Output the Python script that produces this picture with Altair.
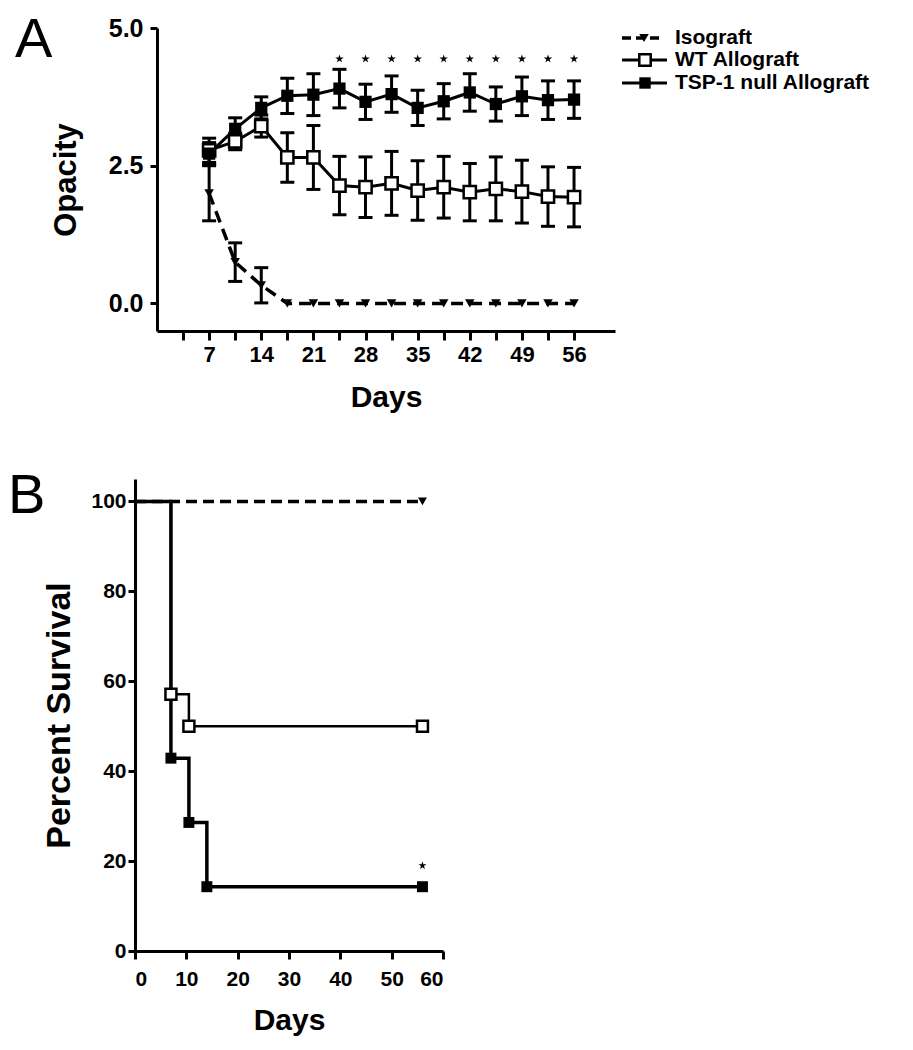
import altair as alt
import pandas as pd

# ---------------- Panel A data ----------------
days = [7, 10.5, 14, 17.5, 21, 24.5, 28, 31.5, 35, 38.5, 42, 45.5, 49, 52.5, 56]
iso_mean = [2.0, 0.75, 0.33, 0, 0, 0, 0, 0, 0, 0, 0, 0, 0, 0, 0]
iso_err = [0.5, 0.35, 0.32, 0, 0, 0, 0, 0, 0, 0, 0, 0, 0, 0, 0]
wt_mean = [2.78, 2.94, 3.22, 2.65, 2.65, 2.14, 2.11, 2.18, 2.05, 2.11, 2.02, 2.08, 2.03, 1.94, 1.93]
wt_err = [0.22, 0.15, 0.2, 0.45, 0.58, 0.53, 0.55, 0.58, 0.54, 0.56, 0.52, 0.58, 0.57, 0.54, 0.54]
tsp_mean = [2.72, 3.17, 3.55, 3.77, 3.79, 3.90, 3.66, 3.80, 3.55, 3.67, 3.83, 3.62, 3.76, 3.69, 3.70]
tsp_err = [0.2, 0.2, 0.2, 0.32, 0.38, 0.35, 0.32, 0.33, 0.32, 0.32, 0.34, 0.31, 0.35, 0.35, 0.34]
star_days = [24.5, 28, 31.5, 35, 38.5, 42, 45.5, 49, 52.5, 56]
star_level = 4.44
series_names = ["Isograft", "WT Allograft", "TSP-1 null Allograft"]
a_ticks = [3.5, 7, 10.5, 14, 17.5, 21, 24.5, 28, 31.5, 35, 38.5, 42, 45.5, 49, 52.5, 56]

# ---------------- Panel B data ----------------
iso_surv_day = [0, 56]
iso_surv = [100, 100]
wt_surv_day = [0, 7, 10.5, 56]
wt_surv = [100, 57.1, 50, 50]
tsp_surv_day = [0, 7, 10.5, 14, 56]
tsp_surv = [100, 42.9, 28.6, 14.3, 14.3]
iso_mark_day = [56]
iso_mark = [100]
wt_mark_day = [7, 10.5, 56]
wt_mark = [57.1, 50, 50]
tsp_mark_day = [7, 10.5, 14, 56]
tsp_mark = [42.9, 28.6, 14.3, 14.3]
b_star_day = [56]
b_star = [19]

FONT = "Liberation Sans, Arial, Helvetica, sans-serif"
STAR = ("M0,-1L0.2245,-0.309L0.951,-0.309L0.363,0.118L0.588,0.809L0,0.382"
        "L-0.588,0.809L-0.363,0.118L-0.951,-0.309L-0.2245,-0.309Z")


def frame(name, mean, err):
    return pd.DataFrame({
        "day": days, "mean": mean, "err": err,
        "lo": [m - e for m, e in zip(mean, err)],
        "hi": [m + e for m, e in zip(mean, err)],
        "series": name,
    })


iso_df = frame(series_names[0], iso_mean, iso_err)
wt_df = frame(series_names[1], wt_mean, wt_err)
tsp_df = frame(series_names[2], tsp_mean, tsp_err)
all_df = pd.concat([iso_df, wt_df, tsp_df], ignore_index=True)
err_df = all_df[all_df["err"] > 0]

axis_common = dict(
    domainColor="black", domainWidth=3, tickColor="black", tickWidth=3,
    labelColor="black", labelFont=FONT, labelFontWeight="bold",
    titleColor="black", titleFont=FONT, titleFontWeight="bold", grid=False,
)

xA = alt.X("day:Q", scale=alt.Scale(domain=[0, 61.5], nice=False),
           axis=alt.Axis(values=a_ticks, labelExpr="datum.value % 7 === 0 ? datum.label : ''",
                         title="Days", tickSize=9, labelFontSize=22, titleFontSize=30,
                         labelPadding=4, titlePadding=17, **axis_common))
yA = alt.Y("mean:Q", scale=alt.Scale(domain=[-0.5, 5.0], nice=False),
           axis=alt.Axis(values=[0, 2.5, 5.0], format=".1f", title="Opacity", tickSize=7,
                         labelFontSize=25, titleFontSize=31, labelPadding=7, titlePadding=26,
                         **axis_common))

base_err = alt.Chart(err_df)
err_rules = base_err.mark_rule(color="black", strokeWidth=3).encode(
    x=xA, y=alt.Y("lo:Q"), y2="hi:Q")
caps_lo = base_err.mark_tick(orient="horizontal", color="black", size=14, thickness=3,
                             opacity=1).encode(x=xA, y=alt.Y("lo:Q"))
caps_hi = base_err.mark_tick(orient="horizontal", color="black", size=14, thickness=3,
                             opacity=1).encode(x=xA, y=alt.Y("hi:Q"))

iso_line = alt.Chart(iso_df).mark_line(color="black", strokeWidth=3.5, strokeDash=[12, 7]).encode(
    x=xA, y=yA)
wt_line = alt.Chart(wt_df).mark_line(color="black", strokeWidth=3).encode(x=xA, y=yA)
tsp_line = alt.Chart(tsp_df).mark_line(color="black", strokeWidth=3).encode(x=xA, y=yA)

iso_pts = alt.Chart(iso_df).mark_point(shape="triangle-down", filled=True, color="black",
                                      size=90, opacity=1).encode(x=xA, y=yA)
wt_pts = alt.Chart(wt_df).mark_point(shape="square", filled=True, fill="white", stroke="black",
                                     strokeWidth=2.5, size=150, opacity=1).encode(x=xA, y=yA)
tsp_pts = alt.Chart(tsp_df).mark_point(shape="square", filled=True, color="black",
                                       size=150, opacity=1).encode(x=xA, y=yA)

stars_df = pd.DataFrame({"day": star_days, "mean": [star_level] * len(star_days)})
stars = alt.Chart(stars_df).mark_point(shape=STAR, filled=True, color="black", size=80,
                                       opacity=1).encode(x=xA, y=yA)

# legend drawn beside panel A
leg_rows = [10, 32, 55]
legend_layers = []
for i, name in enumerate(series_names):
    d = alt.Chart(pd.DataFrame({"series": [name]}))
    if i == 0:
        legend_layers.append(d.mark_rule(color="black", strokeWidth=3.5, strokeDash=[9, 5]).encode(
            x=alt.value(465), x2=alt.value(505), y=alt.value(leg_rows[i])))
        legend_layers.append(d.mark_point(shape="triangle-down", filled=True, color="black",
                                          size=90, opacity=1).encode(
            x=alt.value(487), y=alt.value(leg_rows[i])))
    else:
        legend_layers.append(d.mark_rule(color="black", strokeWidth=3).encode(
            x=alt.value(465), x2=alt.value(510), y=alt.value(leg_rows[i])))
        if i == 1:
            legend_layers.append(d.mark_point(shape="square", filled=True, fill="white",
                                              stroke="black", strokeWidth=2.5, size=130,
                                              opacity=1).encode(
                x=alt.value(488), y=alt.value(leg_rows[i])))
        else:
            legend_layers.append(d.mark_point(shape="square", filled=True, color="black",
                                              size=130, opacity=1).encode(
                x=alt.value(488), y=alt.value(leg_rows[i])))
    legend_layers.append(d.mark_text(align="left", baseline="middle", font=FONT, fontSize=21,
                                     fontWeight="bold", color="black").encode(
        x=alt.value(518), y=alt.value(leg_rows[i]), text="series:N"))

label_A = alt.Chart(pd.DataFrame({"t": ["A"]})).mark_text(
    align="left", baseline="alphabetic", font=FONT, fontSize=56, color="black").encode(
    x=alt.value(-142), y=alt.value(29), text="t:N")
# invisible anchor that fixes the left extent of panel A
anchor_A = alt.Chart(pd.DataFrame({"t": ["A"]})).mark_rule(strokeOpacity=0).encode(
    x=alt.value(-149), y=alt.value(40), y2=alt.value(41))

panelA = alt.layer(err_rules, caps_lo, caps_hi, iso_line, wt_line, tsp_line,
                   iso_pts, wt_pts, tsp_pts, stars, label_A, anchor_A,
                   *legend_layers).properties(width=458, height=303)

# ---------------- Panel B ----------------
# panel B's axes sit 22px further left than panel A's
B_SHIFT = 22
B_W = 308
xB = alt.X("day:Q", scale=alt.Scale(domain=[0, 60], nice=False, range=[-B_SHIFT, B_W - B_SHIFT]),
           axis=alt.Axis(values=[0, 10, 20, 30, 40, 50, 60], title="Days", tickSize=8,
                         labelFontSize=21, titleFontSize=30, labelPadding=9, titlePadding=16,
                         **axis_common))
yB = alt.Y("surv:Q", scale=alt.Scale(domain=[0, 105], nice=False),
           axis=alt.Axis(values=[0, 20, 40, 60, 80, 100], title="Percent Survival", tickSize=7,
                         labelFontSize=21, titleFontSize=34, labelPadding=2, titlePadding=14,
                         offset=B_SHIFT, **axis_common))

iso_b = alt.Chart(pd.DataFrame({"day": iso_surv_day, "surv": iso_surv})).mark_line(
    color="black", strokeWidth=3.5, strokeDash=[11, 6]).encode(x=xB, y=yB)
wt_b = alt.Chart(pd.DataFrame({"day": wt_surv_day, "surv": wt_surv})).mark_line(
    color="black", strokeWidth=2.5, interpolate="step-after").encode(x=xB, y=yB)
tsp_b = alt.Chart(pd.DataFrame({"day": tsp_surv_day, "surv": tsp_surv})).mark_line(
    color="black", strokeWidth=3.5, interpolate="step-after").encode(x=xB, y=yB)

iso_bm = alt.Chart(pd.DataFrame({"day": iso_mark_day, "surv": iso_mark})).mark_point(
    shape="triangle-down", filled=True, color="black", size=80, opacity=1).encode(x=xB, y=yB)
wt_bm = alt.Chart(pd.DataFrame({"day": wt_mark_day, "surv": wt_mark})).mark_point(
    shape="square", filled=True, fill="white", stroke="black", strokeWidth=2.5, size=120,
    opacity=1).encode(x=xB, y=yB)
tsp_bm = alt.Chart(pd.DataFrame({"day": tsp_mark_day, "surv": tsp_mark})).mark_point(
    shape="square", filled=True, color="black", size=120, opacity=1).encode(x=xB, y=yB)
star_b = alt.Chart(pd.DataFrame({"day": b_star_day, "surv": b_star})).mark_point(
    shape=STAR, filled=True, color="black", size=70, opacity=1).encode(x=xB, y=yB)

label_B = alt.Chart(pd.DataFrame({"t": ["B"]})).mark_text(
    align="left", baseline="alphabetic", font=FONT, fontSize=56, color="black").encode(
    x=alt.value(-149), y=alt.value(34), text="t:N")

panelB = alt.layer(iso_b, wt_b, tsp_b, iso_bm, wt_bm, tsp_bm, star_b, label_B).properties(
    width=B_W - B_SHIFT, height=472)

chart = alt.concat(panelA, panelB, columns=1, align="none", spacing=56).properties(
    padding={"left": 0, "top": 4, "right": 5, "bottom": 5}
).configure_view(stroke=None)

chart.save("out.html", embed_options={"renderer": "svg", "actions": False})
